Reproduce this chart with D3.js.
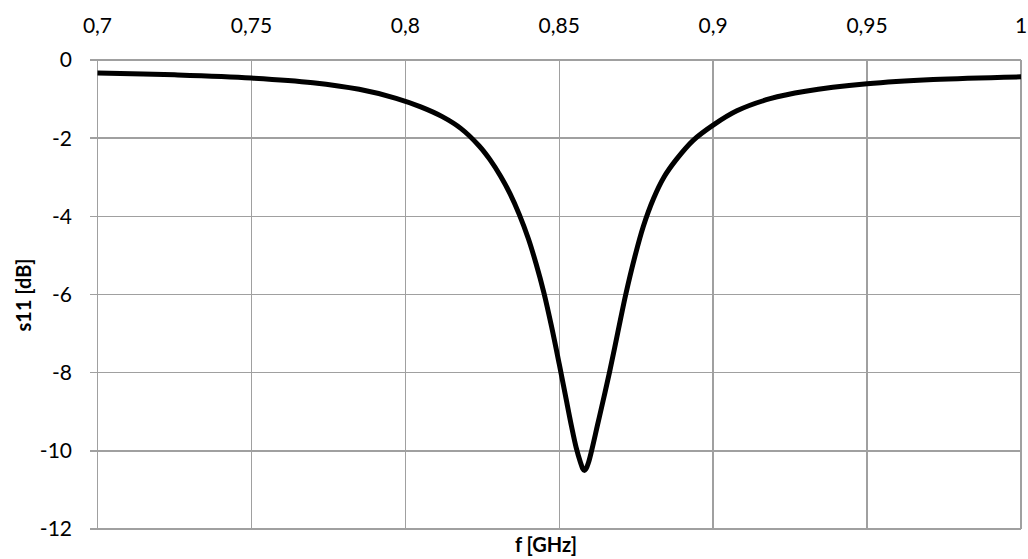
<!DOCTYPE html>
<html>
<head>
<meta charset="utf-8">
<script src="https://cdn.jsdelivr.net/npm/d3@7"></script>
<style>
  body { margin: 0; background: #fff; }
  svg { display: block; font-family: Lato, "Open Sans", sans-serif; }
  .grid line { stroke: #a0a0a0; stroke-width: 1.4; shape-rendering: crispEdges; }
  .tick-label { font-size: 21px; fill: #000; }
  .axis-title { font-size: 20px; font-weight: bold; fill: #000; }
</style>
</head>
<body>
<svg id="chart" width="1028" height="559"></svg>
<script>
// Frequency points (GHz) and the matching s11 values (dB)
const FREQS = [0.700, 0.725, 0.750, 0.770, 0.785, 0.797, 0.805, 0.812, 0.818, 0.824,
  0.8275, 0.831, 0.834, 0.837, 0.840, 0.8425, 0.845, 0.8475, 0.850, 0.852,
  0.854, 0.8555, 0.8569, 0.8576, 0.8581, 0.8587, 0.8595, 0.8605, 0.8624, 0.8643,
  0.8663, 0.8690, 0.8716, 0.8745, 0.8773, 0.8806, 0.8840, 0.8880, 0.8936, 0.9001,
  0.9077, 0.9185, 0.930, 0.950, 0.9715, 1.000];
const S11 = [-0.33, -0.38, -0.46, -0.58, -0.75, -0.98, -1.20, -1.45, -1.75, -2.20,
  -2.55, -2.98, -3.42, -3.95, -4.58, -5.22, -5.95, -6.82, -7.78, -8.58,
  -9.38, -9.92, -10.30, -10.45, -10.50, -10.46, -10.30, -10.00, -9.35, -8.70,
  -8.00, -6.98, -6.00, -5.05, -4.26, -3.55, -3.00, -2.55, -2.05, -1.66,
  -1.30, -0.99, -0.80, -0.61, -0.50, -0.43];

const X_TICKS = [0.7, 0.75, 0.8, 0.85, 0.9, 0.95, 1];
const Y_TICKS = [0, -2, -4, -6, -8, -10, -12];

const margin = { top: 60, right: 7, bottom: 30, left: 97.5 };
const width = 1028, height = 559;

const svg = d3.select('#chart');

const xScale = d3.scaleLinear()
  .domain([0.7, 1])
  .range([margin.left, width - margin.right]);

const yScale = d3.scaleLinear()
  .domain([-12, 0])
  .range([height - margin.bottom, margin.top]);

// decimal comma, like the original
const fmt = (d) => String(d).replace('.', ',');

// Grid lines (the outer ones also act as the plot frame)
const grid = svg.append('g').attr('class', 'grid');

grid.selectAll('.v-line')
  .data(X_TICKS)
  .enter()
  .append('line')
    .attr('x1', (d) => xScale(d))
    .attr('x2', (d) => xScale(d))
    .attr('y1', yScale(0))
    .attr('y2', yScale(-12));

// horizontal lines stick out a little on the left as tick marks
grid.selectAll('.h-line')
  .data(Y_TICKS)
  .enter()
  .append('line')
    .attr('x1', xScale(0.7) - 8)
    .attr('x2', xScale(1))
    .attr('y1', (d) => yScale(d))
    .attr('y2', (d) => yScale(d));

// Top axis labels
svg.append('g').selectAll('text')
  .data(X_TICKS)
  .enter()
  .append('text')
    .attr('class', 'tick-label')
    .attr('x', (d) => xScale(d))
    .attr('y', 33)
    .attr('text-anchor', 'middle')
    .text(fmt);

// Left axis labels
svg.append('g').selectAll('text')
  .data(Y_TICKS)
  .enter()
  .append('text')
    .attr('class', 'tick-label')
    .attr('x', 72)
    .attr('y', (d) => yScale(d))
    .attr('dy', '0.35em')
    .attr('text-anchor', 'end')
    .text(fmt);

// The s11 curve
const points = FREQS.map((f, i) => [f, S11[i]]);

const line = d3.line()
  .x((d) => xScale(d[0]))
  .y((d) => yScale(d[1]))
  .curve(d3.curveCatmullRom.alpha(0.5));

svg.append('path')
  .datum(points)
  .attr('d', line)
  .attr('fill', 'none')
  .attr('stroke', '#000')
  .attr('stroke-width', 5)
  .attr('stroke-linejoin', 'round');

// Axis titles
svg.append('text')
  .attr('class', 'axis-title')
  .attr('x', 546)
  .attr('y', 552)
  .attr('text-anchor', 'middle')
  .text('f [GHz]');

svg.append('text')
  .attr('class', 'axis-title')
  .attr('transform', 'translate(31, 295) rotate(-90)')
  .attr('text-anchor', 'middle')
  .text('s11 [dB]');
</script>
</body>
</html>
